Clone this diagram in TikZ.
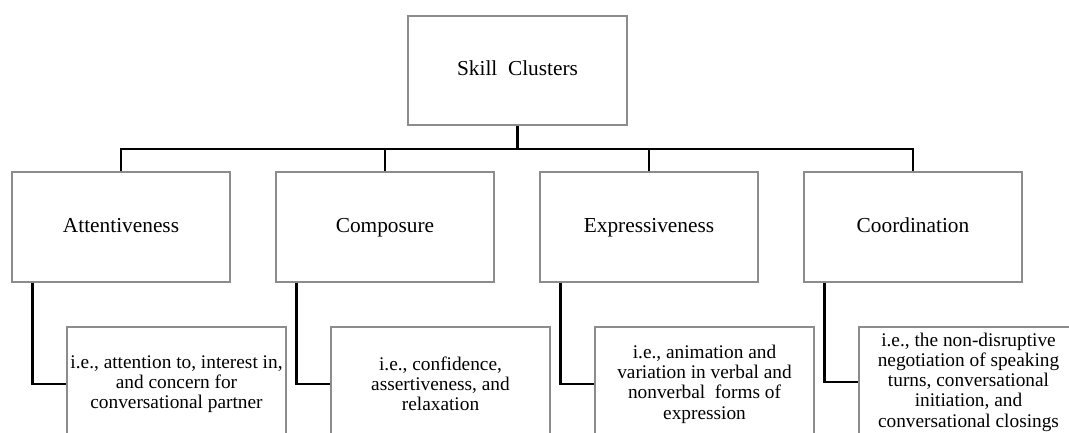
\documentclass[tikz,border=0pt]{standalone}
\usepackage{fontspec}
\setmainfont{Liberation Serif}
\begin{document}
\begin{tikzpicture}[x=0.75pt,y=-0.75pt,
  box/.style={draw={rgb,255:red,140;green,140;blue,140}, line width=0.8pt, fill=white,
    inner sep=1pt, align=center},
  label/.style={box, minimum width=163.5pt, minimum height=82.5pt, text height=11pt, text depth=3.5pt,
    font=\fontsize{16}{18}\selectfont},
  detail/.style={box, minimum width=164.25pt, minimum height=85.5pt, font=\fontsize{14.5}{15.2}\selectfont},
  conn/.style={draw=black, line width=1.6pt}]
\clip (0,0) rectangle (1069,432);
\fill[white] (0,0) rectangle (1069,432);
% top
\node[label, minimum width=164.25pt, minimum height=81.75pt] (top) at (517.5,70.5) {Skill\ \ Clusters};
% middle
\node[label] (a) at (121,227) {Attentiveness};
\node[label] (b) at (385,227) {Composure};
\node[label] (c) at (649,227) {Expressiveness};
\node[label] (d) at (913,227) {Coordination};
% lower
\node[detail] (la) at (176.5,384) {i.e., attention to, interest in,\\and concern for\\conversational partner};
\node[detail] (lb) at (440.5,384) {i.e., confidence,\\assertiveness, and\\relaxation};
\node[detail] (lc) at (704.5,384) {i.e., animation and\\variation in verbal and\\nonverbal\ \ forms of\\expression};
\node[detail, minimum height=82.5pt] (ld) at (968.5,382) {i.e., the non-disruptive\\negotiation of speaking\\turns, conversational\\initiation, and\\conversational closings};
% bus
\coordinate (bus) at (0,149);
\draw[conn] (top.south) -- (top.south |- bus);
\draw[conn] (a.north) -- (a.north |- bus) -- (d.north |- bus) -- (d.north);
\draw[conn] (b.north) -- (b.north |- bus);
\draw[conn] (c.north) -- (c.north |- bus);
% drops
\draw[conn] ([xshift=15.75pt]a.south west) |- (la.west);
\draw[conn] ([xshift=15.75pt]b.south west) |- (lb.west);
\draw[conn] ([xshift=15.75pt]c.south west) |- (lc.west);
\draw[conn] ([xshift=15.75pt]d.south west) |- (ld.west);
\end{tikzpicture}
\end{document}
